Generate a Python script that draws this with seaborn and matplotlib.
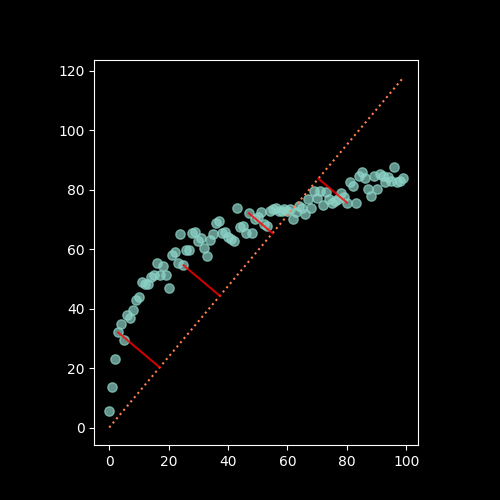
import numpy as np
import pandas as pd
import matplotlib
matplotlib.use("Agg")
import matplotlib.pyplot as plt
import seaborn as sns

# ---- data ----
x_vals = list(range(100))
y_vals = [
    5.4, 13.8, 23.0, 32.0, 34.7, 29.6, 37.7, 37.0, 39.4, 42.8,
    43.8, 48.9, 48.2, 48.2, 50.8, 51.3, 55.5, 51.3, 54.2, 51.3,
    47.1, 58.0, 59.0, 55.3, 65.0, 54.6, 59.7, 59.7, 65.5, 65.7,
    62.7, 63.7, 60.3, 57.6, 63.0, 65.0, 68.8, 69.4, 65.4, 65.7,
    64.0, 63.4, 62.7, 74.0, 67.4, 67.7, 65.4, 72.1, 65.4, 70.1,
    70.7, 72.4, 68.6, 67.8, 73.0, 73.7, 74.0, 73.0, 72.9, 73.5,
    72.9, 73.7, 70.1, 72.5, 74.6, 74.0, 72.0, 76.8, 74.0, 79.6,
    77.4, 79.6, 74.8, 79.2, 77.0, 75.7, 76.3, 76.8, 79.1, 77.5,
    75.7, 82.5, 81.4, 75.4, 84.7, 86.0, 84.1, 80.2, 78.0, 84.7,
    80.2, 85.3, 84.7, 82.5, 84.2, 83.0, 87.8, 82.5, 83.0, 84.1,
]
slope = 1.19                     # direction of the dotted line through origin
proj_idx = [3, 25, 47, 80]       # points shown with their projection

df = pd.DataFrame({"x": x_vals, "y": y_vals})

plt.style.use("dark_background")
fig, ax = plt.subplots(figsize=(5, 5), dpi=100)

sns.scatterplot(data=df, x="x", y="y", ax=ax, color="#8dd3c7", alpha=0.7,
                s=45, edgecolor="#8dd3c7", linewidth=1.0, legend=False)

# line through the origin
line_x = np.array([df["x"].min(), df["x"].max()])
ax.plot(line_x, slope * line_x, ":", color="coral", linewidth=1.5)

# orthogonal projections onto the line
for i in proj_idx:
    px, py = df.loc[i, "x"], df.loc[i, "y"]
    t = (px + slope * py) / (1 + slope ** 2)
    ax.plot([px, t], [py, slope * t], color="red", alpha=0.8, linewidth=1.5)

ax.set_xlabel("")
ax.set_ylabel("")
ax.set_xticks([0, 20, 40, 60, 80, 100])
ax.set_aspect("equal")

fig.savefig("out.png", dpi=100)
